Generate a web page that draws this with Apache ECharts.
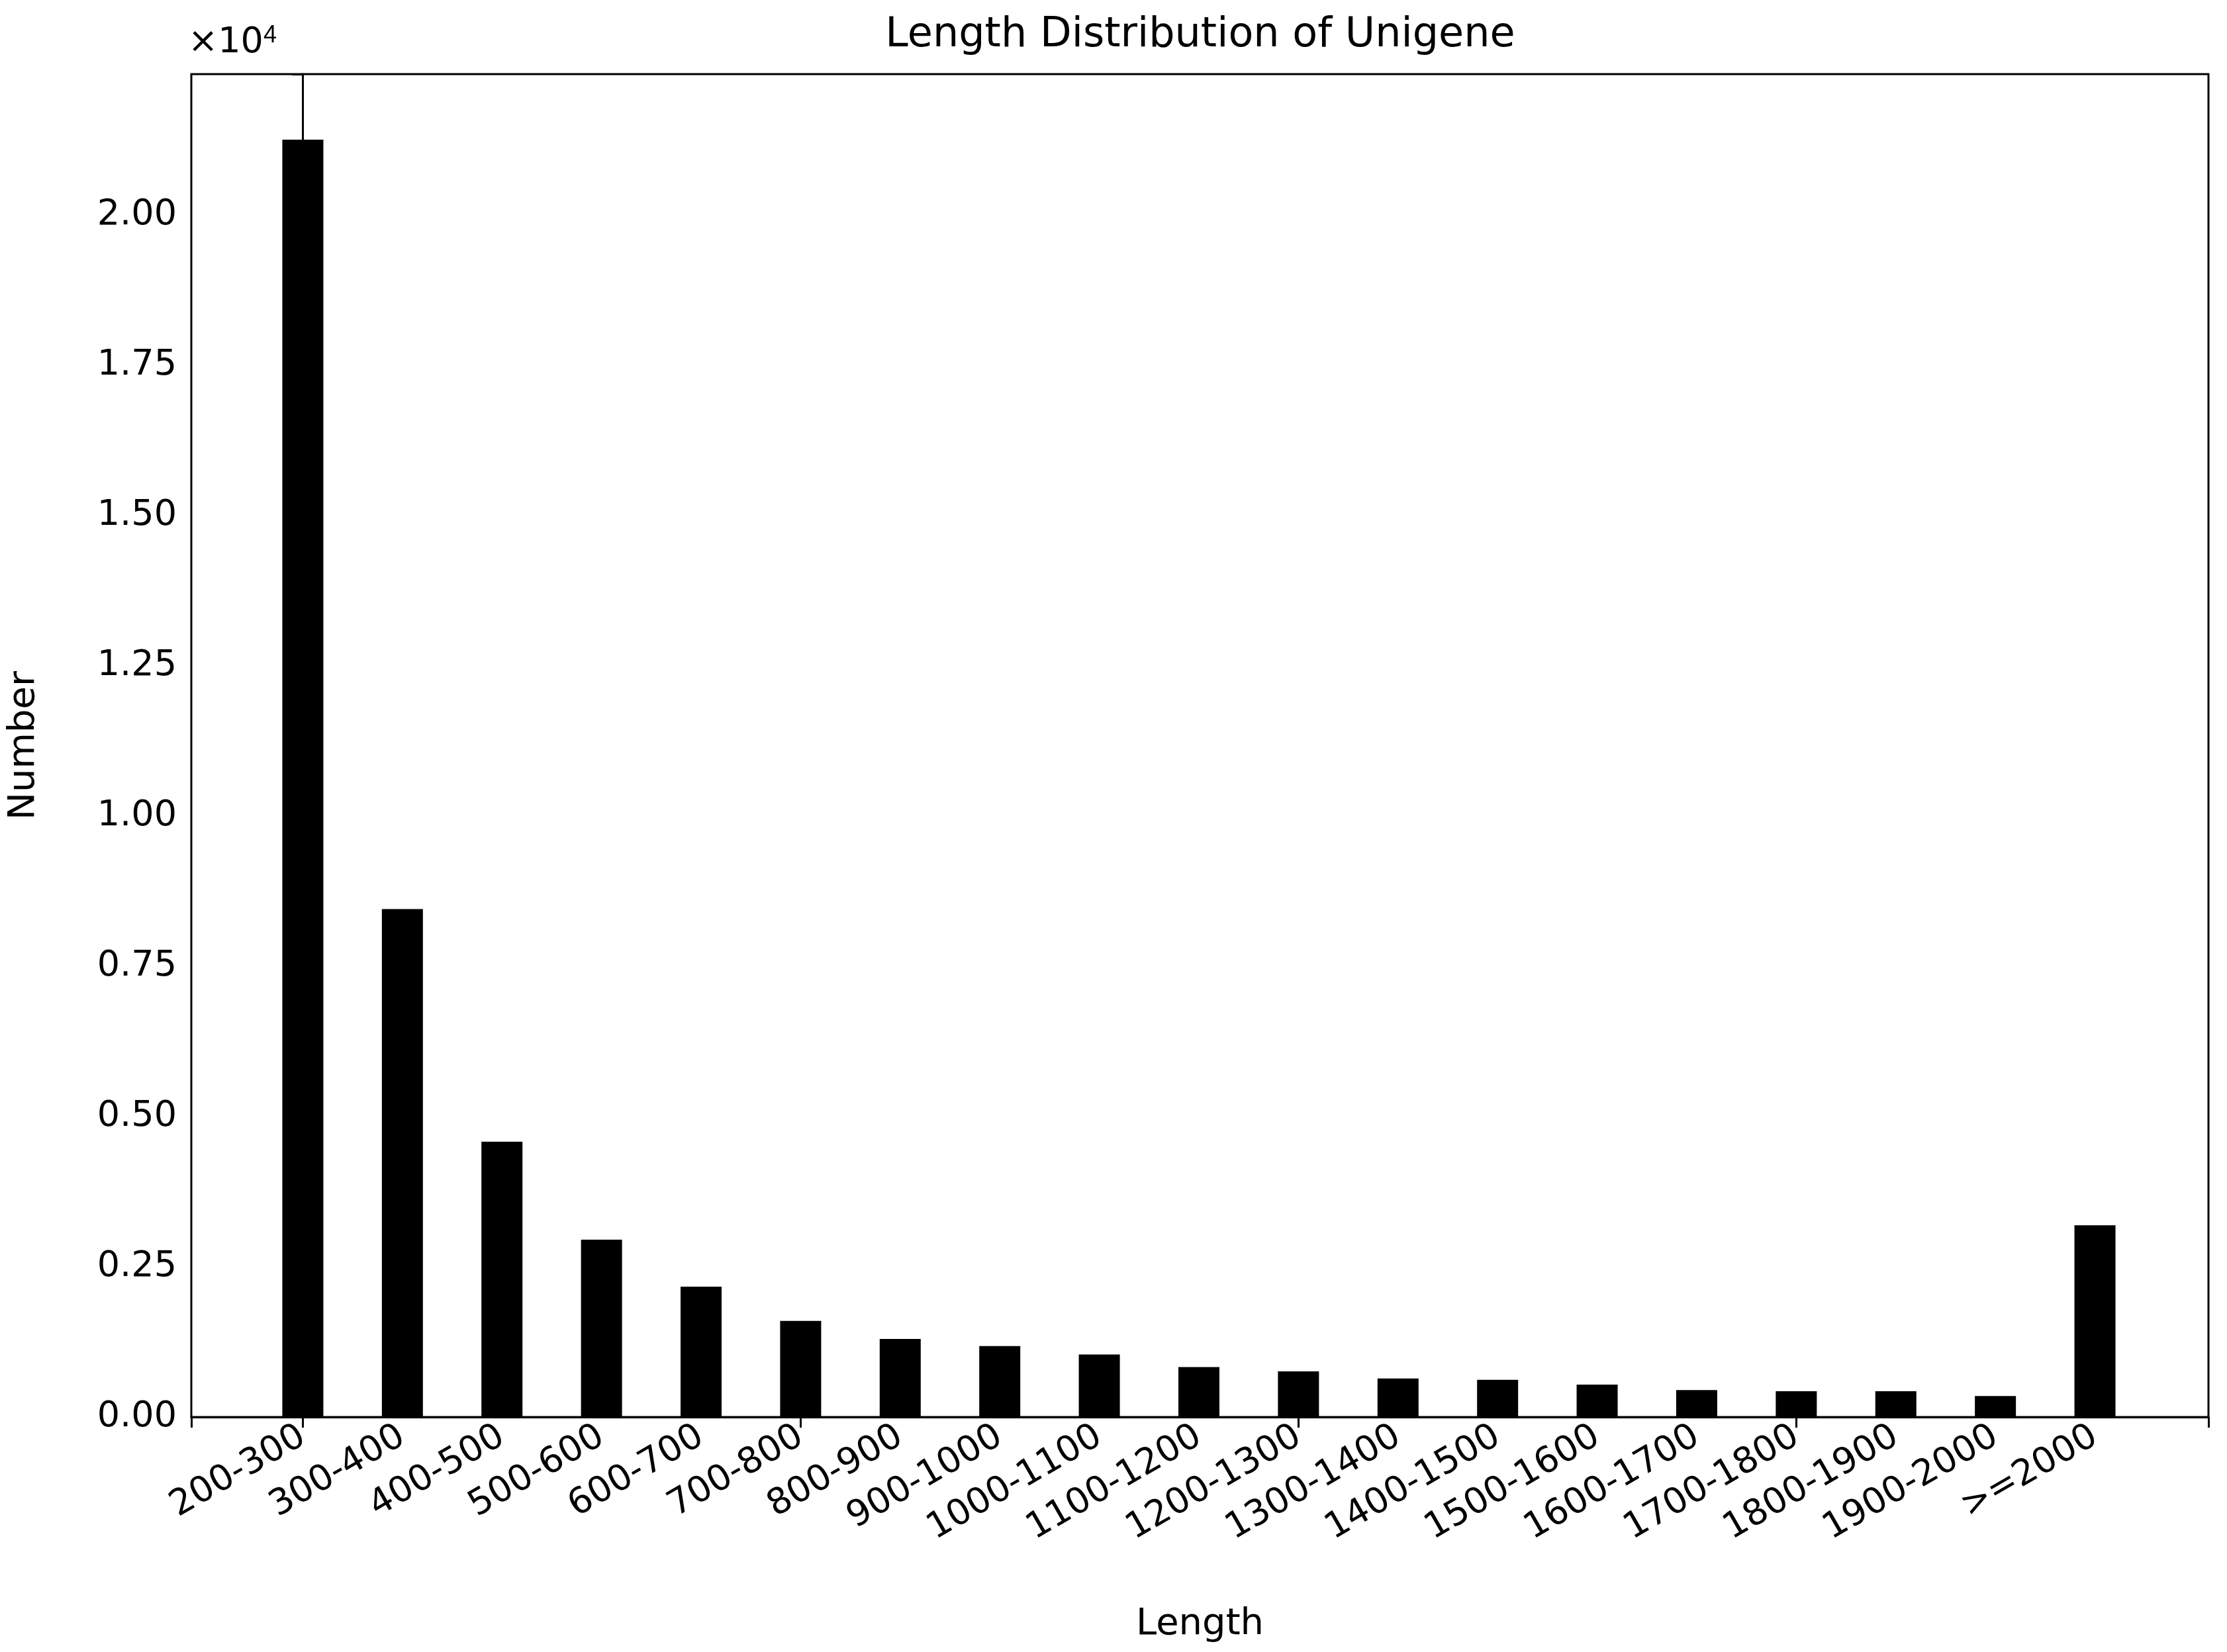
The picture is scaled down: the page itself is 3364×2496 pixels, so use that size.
<!DOCTYPE html>
<html>
<head>
<meta charset="utf-8">
<script src="https://cdn.jsdelivr.net/npm/echarts@6/dist/echarts.min.js"></script>
<style>html,body{margin:0;padding:0;background:#fff}#main{width:3364px;height:2496px}</style>
</head>
<body>
<div id="main"></div>
<script>
const categories = ['200-300', '300-400', '400-500', '500-600', '600-700', '700-800', '800-900',
  '900-1000', '1000-1100', '1100-1200', '1200-1300', '1300-1400', '1400-1500', '1500-1600',
  '1600-1700', '1700-1800', '1800-1900', '1900-2000', '>=2000'];
const counts = [21250, 8450, 4580, 2950, 2170, 1600, 1300, 1180, 1040, 830, 760, 640, 620, 540,
  450, 430, 430, 350, 3190];
const yTicks = [0, 2500, 5000, 7500, 10000, 12500, 15000, 17500, 20000];

const idx = categories.map((c, i) => i);
const font = 'DejaVu Sans';
const chart = echarts.init(document.getElementById('main'));

chart.setOption({
  backgroundColor: '#fff',
  animation: false,
  title: {
    text: 'Length Distribution of Unigene',
    left: 1808, top: 18, textAlign: 'center',
    textStyle: { fontFamily: font, fontSize: 62, fontWeight: 'normal', color: '#000' },
  },
  graphic: [
    { type: 'text', left: 284, top: 36,
      style: { text: '×10{s|4}', rich: { s: { fontSize: 36, verticalAlign: 'top', padding: [0, 0, 22, 0] } },
        fontFamily: font, fontSize: 54, fill: '#000' } },
  ],
  grid: { left: 281, right: 28, top: 112, bottom: 355, show: true, borderColor: '#000', borderWidth: 3 },
  xAxis: {
    type: 'value', min: -1.12, max: 19.14,
    name: 'Length', nameLocation: 'middle', nameGap: 285,
    nameTextStyle: { fontFamily: font, fontSize: 56, color: '#000' },
    splitLine: { show: false },
    axisLine: { show: true, lineStyle: { color: '#000', width: 3 } },
    axisTick: { show: true, inside: false, length: 16, lineStyle: { color: '#000', width: 3 } },
    axisLabel: {
      customValues: idx, rotate: 30, margin: 26,
      formatter: v => categories[Math.round(v)],
      fontFamily: font, fontSize: 54, color: '#000',
    },
  },
  yAxis: {
    type: 'value', min: 0, max: 22340,
    name: 'Number', nameLocation: 'middle', nameGap: 225,
    nameTextStyle: { fontFamily: font, fontSize: 56, color: '#000' },
    splitLine: { show: false },
    axisLine: { show: true, lineStyle: { color: '#000', width: 3 } },
    axisTick: { show: true, inside: false, length: 16, lineStyle: { color: '#000', width: 3 } },
    axisLabel: {
      customValues: yTicks, margin: 22,
      formatter: v => (v / 10000).toFixed(2),
      fontFamily: font, fontSize: 54, color: '#000',
    },
  },
  series: [{
    type: 'bar',
    data: counts.map((v, i) => [i, v]),
    barWidth: 62,
    itemStyle: { color: '#000' },
  }],
});
</script>
</body>
</html>
